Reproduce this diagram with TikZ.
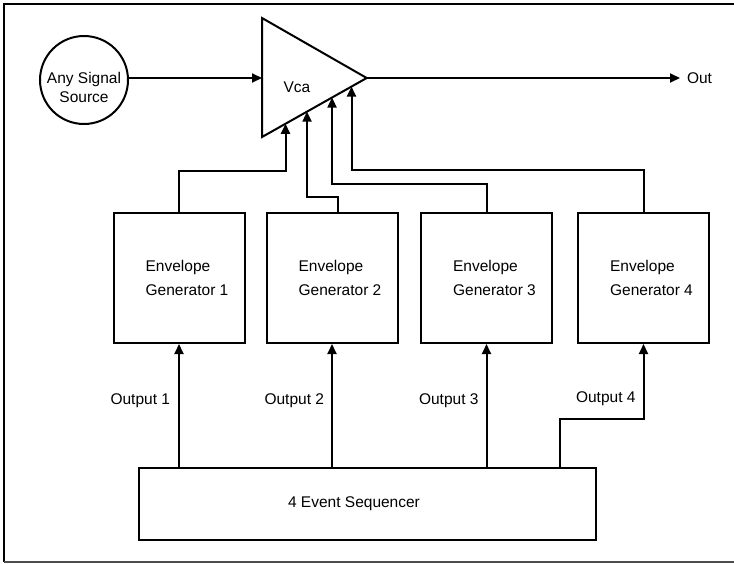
\documentclass[tikz,border=0pt]{standalone}
\usepackage{fontspec}
\setmainfont{Liberation Sans}
\usetikzlibrary{positioning,arrows.meta,calc}

\newcommand{\eglines}[1]{\hspace*{16pt}Envelope\\\hspace*{16pt}Generator #1}

\begin{document}
\begin{tikzpicture}[
  x=1pt, y=-1pt,
  wire/.style={line width=2pt},
  egbox/.style={draw, line width=2pt, minimum width=131pt, minimum height=130pt,
    inner sep=0pt, align=left, font=\fontsize{15.5}{24}\selectfont},
  seqbox/.style={draw, line width=2pt, minimum width=457pt, minimum height=72pt,
    inner sep=0pt, font=\fontsize{15.5}{19}\selectfont},
  srcnode/.style={circle, draw, line width=2pt, minimum size=88pt, inner sep=0pt},
  lbl/.style={font=\fontsize{15.5}{19}\selectfont, inner sep=0pt},
  >={Triangle[length=10pt,width=9pt]}
]
  \useasboundingbox (0,0) rectangle (734,563);

  % Frame
  \draw[line width=2.8pt] (740,4) -- (4,4) -- (4,562);
  \draw[line width=1.8pt, black!70] (4,562) -- (740,562);

  % Source and Vca
  \node[srcnode] (src) at (84,80) {};
  \node[lbl, align=center] (srctext) at (84,87.5) {Any Signal\\Source};

  \coordinate (vtop) at (262,18);
  \coordinate (vbot) at (262,137);
  \coordinate (vtip) at (366.7,78);
  \draw[wire, line join=miter] (vtop) -- (vtip) -- (vbot) -- cycle;
  \node[lbl] (vca) at (297,87) {Vca};

  \coordinate (vin) at (262,78);
  \coordinate (outend) at (680,78);
  \draw[wire, ->] (src.east |- vin) -- (vin);
  \draw[wire, ->] (vtip) -- (outend) node[lbl, right=6pt] (outlbl) {Out};

  % Control inputs on the lower edge
  \coordinate (in1) at ($(vbot)!0.2245!(vtip)$);
  \coordinate (in2) at ($(vbot)!0.43!(vtip)$);
  \coordinate (in3) at ($(vbot)!0.669!(vtip)$);
  \coordinate (in4) at ($(vbot)!0.855!(vtip)$);

  % Envelope generators
  \node[egbox] (eg1) at (179,278) {\eglines{1}};
  \node[egbox, right=20pt of eg1] (eg2) {\eglines{2}};
  \node[egbox, right=21.5pt of eg2] (eg3) {\eglines{3}};
  \node[egbox, right=24pt of eg3] (eg4) {\eglines{4}};

  \draw[wire, ->] (eg1.north) -- ++(0,-41) -| (in1);
  \draw[wire, ->] ([xshift=6pt]eg2.north) -- ++(0,-15) -| (in2);
  \draw[wire, ->] (eg3.north) -- ++(0,-28) -| (in3);
  \draw[wire, ->] (eg4.north) -- ++(0,-42) -| (in4);

  % Sequencer
  \node[seqbox] (seq) at (367.5,504) {4 Event Sequencer\hspace*{27pt}};
  \coordinate (o4) at (560,0);

  \draw[wire, ->] (eg1.south |- seq.north) -- (eg1.south)
    node[lbl, pos=0.54, left=8pt] (out1) {Output 1};
  \draw[wire, ->] (eg2.south |- seq.north) -- (eg2.south)
    node[lbl, pos=0.54, left=7pt] (out2) {Output 2};
  \draw[wire, ->] (eg3.south |- seq.north) -- (eg3.south)
    node[lbl, pos=0.54, left=7pt] (out3) {Output 3};
  \draw[wire, ->] (seq.north -| o4) -- ++(0,-48) -| (eg4.south)
    node[lbl, pos=0.634, left=7pt] (out4) {Output 4};
\end{tikzpicture}
\end{document}
